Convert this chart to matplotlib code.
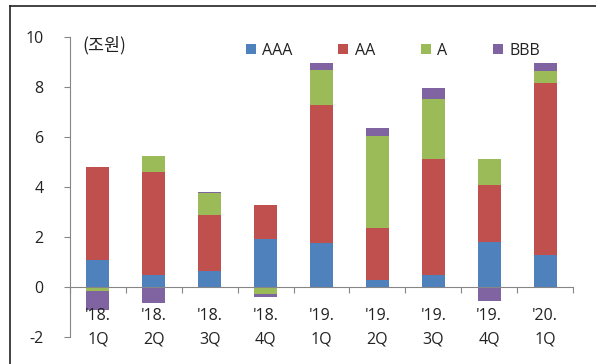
import matplotlib
matplotlib.use("Agg")
import matplotlib.pyplot as plt
from matplotlib.lines import Line2D
import numpy as np

plt.rcParams['font.family'] = ['Open Sans', 'Noto Sans CJK KR', 'DejaVu Sans']
plt.rcParams['axes.unicode_minus'] = False

quarters = ["'18.\n1Q", "'18.\n2Q", "'18.\n3Q", "'18.\n4Q",
            "'19.\n1Q", "'19.\n2Q", "'19.\n3Q", "'19.\n4Q", "'20.\n1Q"]
series_names = ["AAA", "AA", "A", "BBB"]
aaa = [1.10, 0.50, 0.63, 1.93, 1.76, 0.30, 0.47, 1.80, 1.27]
aa = [3.70, 4.10, 2.27, 1.34, 5.51, 2.06, 4.65, 2.29, 6.88]
a = [-0.15, 0.65, 0.86, -0.27, 1.41, 3.69, 2.40, 1.03, 0.49]
bbb = [-0.75, -0.63, 0.03, -0.13, 0.27, 0.31, 0.43, -0.56, 0.31]
colors = ["#4F81BD", "#C0504D", "#9BBB59", "#8064A2"]
y_ticks = [-2, 0, 2, 4, 6, 8, 10]

W, H = 596, 364
fig = plt.figure(figsize=(W / 100, H / 100), dpi=100)
ax = fig.add_axes([70 / W, 1 - 337 / H, 503 / W, 300 / H])

x = np.arange(len(quarters))
pos_base = np.zeros(len(quarters))
neg_base = np.zeros(len(quarters))
for name, vals, col in zip(series_names, [aaa, aa, a, bbb], colors):
    v = np.array(vals, dtype=float)
    bottoms = np.where(v >= 0, pos_base, neg_base)
    ax.bar(x, v, width=0.41, bottom=bottoms, color=col, linewidth=0, zorder=2)
    pos_base += np.where(v >= 0, v, 0)
    neg_base += np.where(v < 0, v, 0)

ax.set_xlim(-0.5, len(quarters) - 0.5)
ax.set_ylim(-2, 10)
ax.set_yticks(y_ticks)
ax.set_yticklabels([str(t) for t in y_ticks])

axis_col = "#868686"
txt_col = "#222222"
fs = 11.5
for s in ["top", "right"]:
    ax.spines[s].set_visible(False)
ax.spines["left"].set_color(axis_col)
ax.spines["bottom"].set_color(axis_col)
ax.spines["bottom"].set_position(("data", 0))

ax.set_xticks(np.arange(-0.5, len(quarters), 1.0))
ax.set_xticklabels([])
ax.tick_params(axis="x", direction="out", length=4, color=axis_col)
ax.tick_params(axis="y", direction="out", length=4, color=axis_col,
               pad=15, labelsize=fs, labelcolor=txt_col)

for i, lab in enumerate(quarters):
    top, bottom = lab.split("\n")
    ax.text(i, -1.16, top, ha="center", va="center", fontsize=fs,
            color=txt_col, clip_on=False)
    ax.text(i, -2.12, bottom, ha="center", va="center", fontsize=fs,
            color=txt_col, clip_on=False)

ax.text(82 / W, 1 - 45 / H, "(조원)", transform=fig.transFigure,
        ha="left", va="center", fontsize=12.5, color=txt_col,
        family=['Noto Sans CJK KR', 'DejaVu Sans'])

handles = [Line2D([0], [0], marker="s", linestyle="none", markersize=7.5,
                  markerfacecolor=c, markeredgewidth=0) for c in colors]
leg = fig.legend(handles, series_names, loc="center left",
                 bbox_to_anchor=(246 / W, 1 - 51 / H), ncol=4, frameon=False,
                 fontsize=fs, handlelength=0.6, handletextpad=0.4,
                 columnspacing=2.9, borderaxespad=0, borderpad=0)
for t in leg.get_texts():
    t.set_color(txt_col)

# outer frame (left and top edges)
fig.add_artist(Line2D([10 / W, 10 / W], [0, 1 - 6 / H], color="#222222",
                      linewidth=1.2, transform=fig.transFigure))
fig.add_artist(Line2D([10 / W, 1], [1 - 6 / H, 1 - 6 / H], color="#222222",
                      linewidth=1.2, transform=fig.transFigure))

fig.savefig("out.png", dpi=100)
